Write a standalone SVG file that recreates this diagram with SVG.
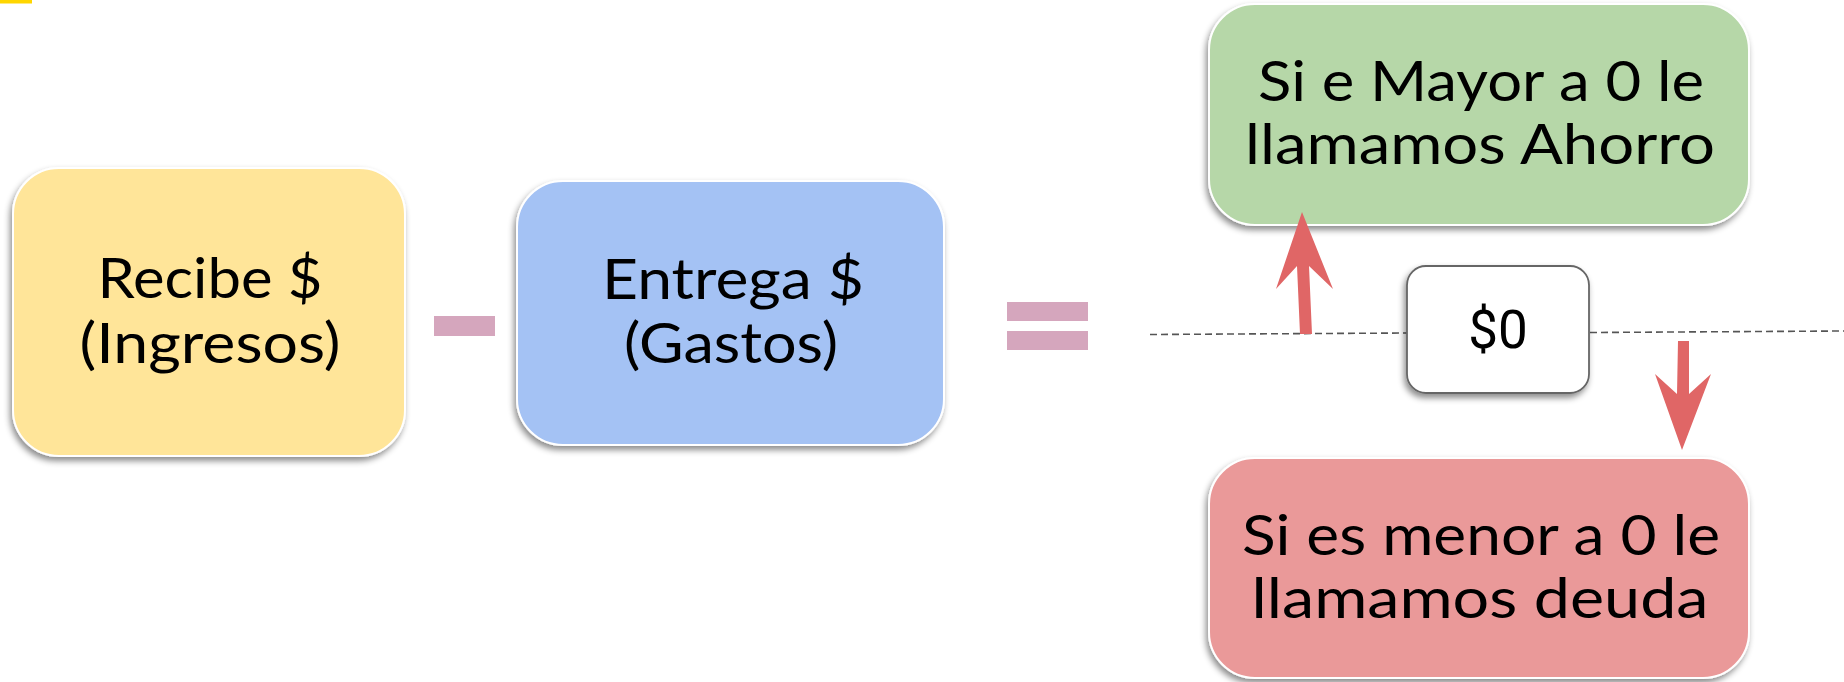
<svg xmlns="http://www.w3.org/2000/svg" width="1844" height="682" viewBox="0 0 1844 682">
<defs>
<filter id="sh" x="-10%" y="-10%" width="120%" height="130%">
<feDropShadow dx="-2" dy="4" stdDeviation="3" flood-color="#000" flood-opacity="0.45"/>
</filter>
<style>
.box{stroke:#ffffff;stroke-width:2;filter:url(#sh)}
.lbl{font-family:Lato,"Open Sans","Noto Sans",sans-serif;font-size:56px;fill:#000;text-anchor:middle}
.op{fill:#d5a6bd}
.dash{stroke:#555;stroke-width:1.6;stroke-dasharray:7 4;fill:none}
.arr{fill:#e06666}
</style>
</defs>
<rect width="1844" height="682" fill="#ffffff"/>
<rect x="0" y="0" width="32" height="3.5" fill="#ffd600"/>

<g id="ingresos">
<rect class="box" x="13" y="168" width="392" height="288" rx="46" fill="#ffe599"/>
<text class="lbl" x="210" y="298" textLength="225" lengthAdjust="spacingAndGlyphs">Recibe $</text>
<text class="lbl" x="210" y="363" textLength="261" lengthAdjust="spacingAndGlyphs">(Ingresos)</text>
</g>

<g id="menos">
<rect class="op" x="434" y="316" width="61" height="20"/>
</g>

<g id="gastos">
<rect class="box" x="517" y="181" width="427" height="264" rx="46" fill="#a4c2f4"/>
<text class="lbl" x="733" y="299" textLength="262" lengthAdjust="spacingAndGlyphs">Entrega $</text>
<text class="lbl" x="731" y="363" textLength="214" lengthAdjust="spacingAndGlyphs">(Gastos)</text>
</g>

<g id="igual">
<rect class="op" x="1007" y="302" width="81" height="19"/>
<rect class="op" x="1007" y="331" width="81" height="19"/>
</g>

<g id="ahorro">
<rect class="box" x="1209" y="4" width="540" height="221" rx="46" fill="#b6d7a8"/>
<text class="lbl" x="1481" y="101" textLength="446" lengthAdjust="spacingAndGlyphs">Si e Mayor a 0 le</text>
<text class="lbl" x="1480" y="164" textLength="470" lengthAdjust="spacingAndGlyphs">llamamos Ahorro</text>
</g>

<g id="deuda">
<rect class="box" x="1209" y="458" width="540" height="220" rx="46" fill="#ea9999"/>
<text class="lbl" x="1481" y="555" textLength="478" lengthAdjust="spacingAndGlyphs">Si es menor a 0 le</text>
<text class="lbl" x="1480" y="618" textLength="457" lengthAdjust="spacingAndGlyphs">llamamos deuda</text>
</g>

<g id="connectors">
<line class="dash" x1="1150" y1="334.5" x2="1407" y2="333"/>
<line class="dash" x1="1590" y1="332.5" x2="1844" y2="331"/>
<polygon class="arr" points="1302,212 1333,289 1309,266 1312,334 1300,334 1297,266 1276,289"/>
<polygon class="arr" points="1678,341 1689,341 1689,394 1711,374 1682,450 1655,374 1677,394"/>
</g>

<g id="cero">
<rect x="1407" y="266" width="182" height="127" rx="19" fill="#ffffff" stroke="#666" stroke-width="1.8" filter="url(#sh)"/>
<text x="1498" y="348" font-family="Roboto,'Liberation Sans',sans-serif" font-size="53" text-anchor="middle" fill="#000">$0</text>
</g>
</svg>
